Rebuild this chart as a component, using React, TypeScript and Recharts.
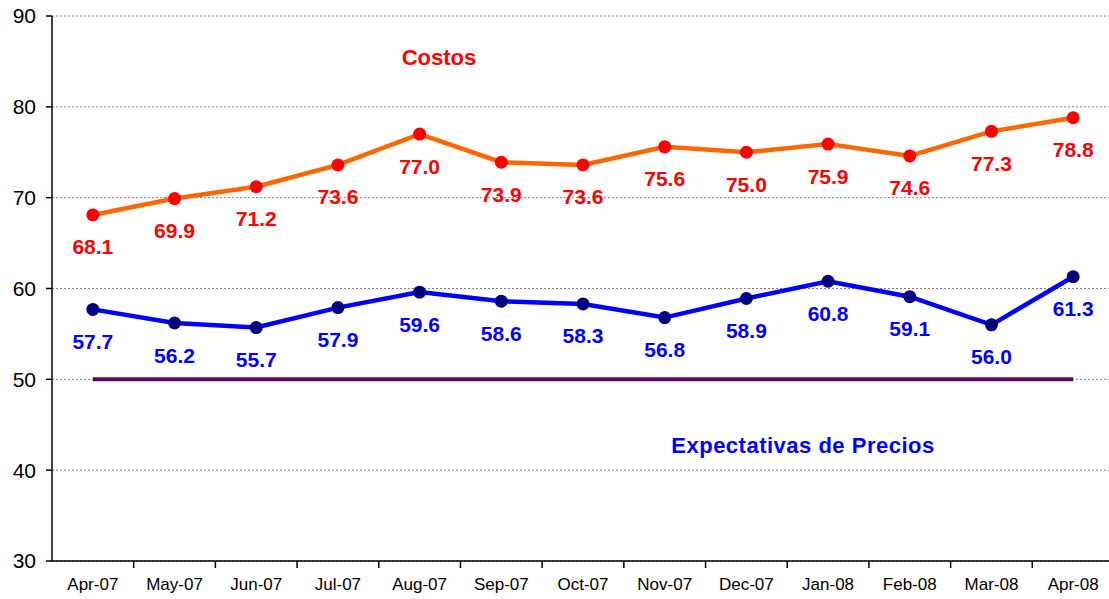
import React from "react";
import {
  LineChart,
  Line,
  XAxis,
  YAxis,
  CartesianGrid,
  LabelList,
} from "recharts";

const months = [
  "Apr-07", "May-07", "Jun-07", "Jul-07", "Aug-07", "Sep-07", "Oct-07",
  "Nov-07", "Dec-07", "Jan-08", "Feb-08", "Mar-08", "Apr-08",
];
const costos = [68.1, 69.9, 71.2, 73.6, 77.0, 73.9, 73.6, 75.6, 75.0, 75.9, 74.6, 77.3, 78.8];
const expectativas = [57.7, 56.2, 55.7, 57.9, 59.6, 58.6, 58.3, 56.8, 58.9, 60.8, 59.1, 56.0, 61.3];
const umbral = [50, 50, 50, 50, 50, 50, 50, 50, 50, 50, 50, 50, 50];
const yTicks = [30, 40, 50, 60, 70, 80, 90];

const W = 1109;
const H = 599;
const LEFT = 52;
// the original plot runs a few px past the right edge of the picture
const RIGHT = -5;
// half a category band, so points sit in the middle of each month slot
const HALF_BAND = (W - LEFT - RIGHT) / months.length / 2;
const FONT = "'Liberation Sans', Arial, sans-serif";

const data = months.map((m, i) => ({
  month: m,
  costos: costos[i],
  expectativas: expectativas[i],
  umbral: umbral[i],
}));

const MonthTick = (props: any) => {
  const { x, y, payload, index } = props;
  const last = index === months.length - 1;
  return (
    <g>
      {index > 0 && (
        <line x1={x - HALF_BAND} y1={y} x2={x - HALF_BAND} y2={y + 7} stroke="#000" strokeWidth={1.5} />
      )}
      {last && (
        <line x1={x + HALF_BAND} y1={y} x2={x + HALF_BAND} y2={y + 7} stroke="#000" strokeWidth={1.5} />
      )}
      <text x={x} y={y + 29} textAnchor="middle" fontSize={17} fill="#000" fontFamily={FONT}>
        {payload.value}
      </text>
    </g>
  );
};

const makeLabel = (color: string) => (props: any) => {
  const { x, y, value } = props;
  return (
    <text
      x={x}
      y={y + 32}
      textAnchor="middle"
      dominantBaseline="central"
      fontSize={21}
      fontWeight="bold"
      fill={color}
      fontFamily={FONT}
    >
      {Number(value).toFixed(1)}
    </text>
  );
};

export default function App() {
  return (
    <div style={{ position: "absolute", left: 0, top: 0, width: W, height: H, background: "#fff", overflow: "hidden" }}>
      <LineChart
        width={W}
        height={H}
        data={data}
        margin={{ top: 16, right: RIGHT, bottom: 0, left: 0 }}
        style={{ fontFamily: FONT, overflow: "hidden" }}
      >
        <CartesianGrid vertical={false} stroke="#7f7f7f" strokeDasharray="2 2" />
        <XAxis
          dataKey="month"
          stroke="#000"
          strokeWidth={1.5}
          tickLine={false}
          tickSize={0}
          tickMargin={0}
          height={38}
          interval={0}
          padding={{ left: HALF_BAND, right: HALF_BAND }}
          tick={<MonthTick />}
        />
        <YAxis
          domain={[30, 90]}
          ticks={yTicks}
          interval={0}
          width={LEFT}
          stroke="#000"
          strokeWidth={1.5}
          tickSize={6}
          tickMargin={10}
          tick={{ fill: "#000", fontSize: 21, fontFamily: FONT }}
        />
        <Line
          dataKey="umbral"
          stroke="#660066"
          strokeWidth={4}
          dot={false}
          activeDot={false}
          isAnimationActive={false}
        />
        <Line
          dataKey="costos"
          stroke="#FF6600"
          strokeWidth={4.5}
          dot={{ r: 6.5, fill: "#FF0000", stroke: "none" }}
          activeDot={false}
          isAnimationActive={false}
        >
          <LabelList dataKey="costos" content={makeLabel("#FF0000")} />
        </Line>
        <Line
          dataKey="expectativas"
          stroke="#0000FF"
          strokeWidth={4.5}
          dot={{ r: 6.5, fill: "#000080", stroke: "none" }}
          activeDot={false}
          isAnimationActive={false}
        >
          <LabelList dataKey="expectativas" content={makeLabel("#0000FF")} />
        </Line>
      </LineChart>
      <div
        style={{
          position: "absolute",
          left: 439,
          top: 58,
          transform: "translate(-50%, -50%)",
          color: "#FF0000",
          fontFamily: FONT,
          fontWeight: "bold",
          fontSize: 22,
          whiteSpace: "nowrap",
        }}
      >
        Costos
      </div>
      <div
        style={{
          position: "absolute",
          left: 803,
          top: 446,
          transform: "translate(-50%, -50%)",
          color: "#0000FF",
          fontFamily: FONT,
          fontWeight: "bold",
          fontSize: 22,
          letterSpacing: 0.5,
          whiteSpace: "nowrap",
        }}
      >
        Expectativas de Precios
      </div>
    </div>
  );
}
